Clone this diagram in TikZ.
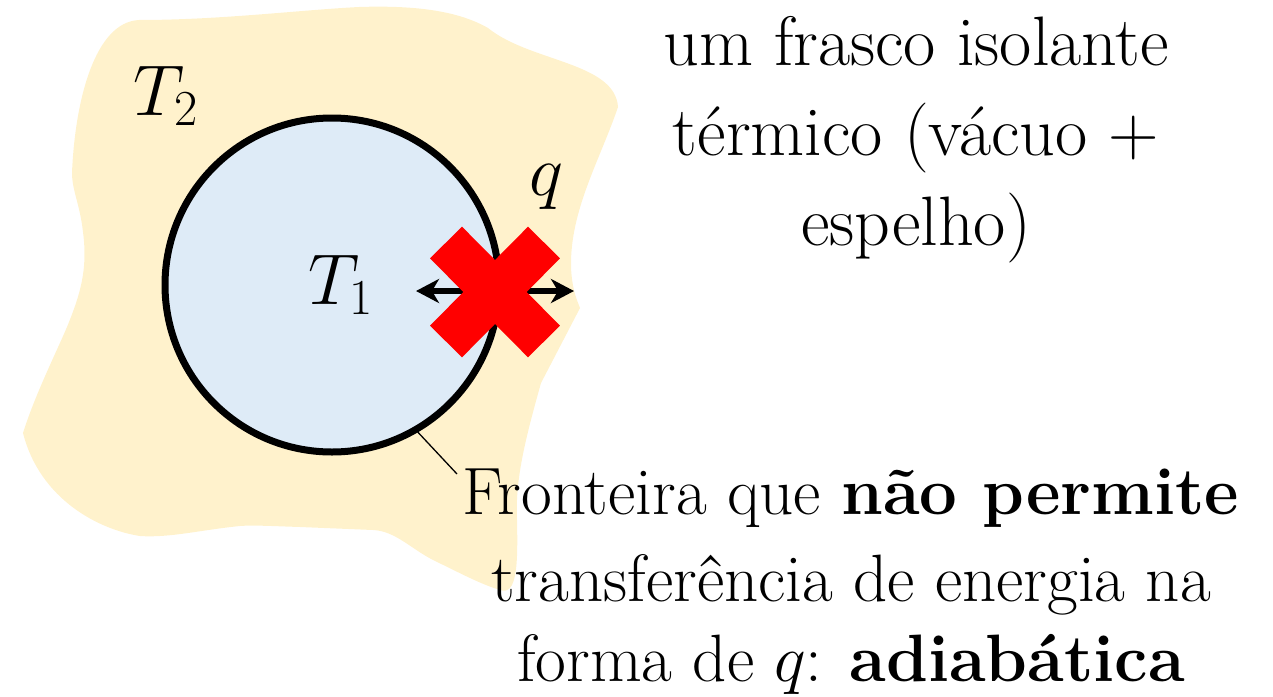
\RequirePackage{fix-cm}
\documentclass[tikz,border=0pt]{standalone}
\usetikzlibrary{shapes.misc,arrows.meta}
\definecolor{envyellow}{HTML}{FFF2CC}
\definecolor{sysblue}{HTML}{DEEBF7}
\definecolor{xred}{HTML}{FF0000}
\tikzset{
  mathlbl/.style={inner sep=0pt, font=\fontsize{72}{86}\selectfont},
  toptext/.style={inner sep=0pt, align=center, font=\fontsize{70}{90}\selectfont},
  bottext/.style={inner sep=0pt, align=center, font=\fontsize{67}{87}\selectfont},
  boundary/.style={circle, draw=black, fill=sysblue, line width=7pt, inner sep=0pt, outer sep=0pt, minimum size=334pt},
  nogo/.style={cross out, draw=xred, line width=45pt, inner sep=0pt, outer sep=0pt, minimum width=98pt, minimum height=99pt},
  flux/.style={line width=5.5pt, {Stealth[length=23pt,width=24pt,inset=7pt]}-{Stealth[length=23pt,width=24pt,inset=7pt]}},
  leader/.style={line width=1.3pt}
}
\begin{document}
\begin{tikzpicture}[x=1pt,y=-1pt]
\useasboundingbox (0,0) rectangle (1273,696);
% surroundings blob
\fill[envyellow] (139,20) .. controls (220,20) and (300,10) .. (359,7)
  .. controls (420,5) and (460,12) .. (488,28)
  .. controls (530,62) and (615,62) .. (618,107)
  .. controls (600,160) and (570,210) .. (571,267)
  .. controls (572,290) and (577,300) .. (580,308)
  -- (541,383)
  .. controls (525,440) and (515,480) .. (517,520)
  .. controls (518,565) and (517,596) .. (500,590)
  .. controls (480,584) and (458,572) .. (433,560)
  .. controls (410,548) and (395,531) .. (373,530)
  -- (300,527)
  .. controls (270,526) and (252,525) .. (240,526)
  .. controls (200,530) and (170,538) .. (140,536)
  .. controls (100,530) and (40,500) .. (23,433)
  .. controls (35,395) and (55,355) .. (67,327)
  .. controls (80,295) and (88,270) .. (83,232)
  .. controls (80,205) and (72,190) .. (72,173)
  .. controls (75,100) and (95,22) .. (139,20) -- cycle;
% system boundary
\node[boundary] (bnd) at (332,285) {};
% labels
\node[mathlbl, anchor=base west] (t2) at (133,115) {$T_2$};
\node[mathlbl, anchor=base west] (t1) at (308,304) {$T_1$};
\node[mathlbl, anchor=base west] (q) at (529,195) {$q$};
% heat flow arrows and cross
\coordinate (al) at (416,291);
\coordinate (ar) at (574,291);
\draw[flux] (al) -- (ar);
\node[nogo] (xmark) at (495,292) {};
% texts
\node[toptext, anchor=north] (top) at (916,16.5) {um frasco isolante\\ térmico (vácuo +\\ espelho)};
\node[bottext, anchor=north] (bottom) at (851,468.5) {Fronteira que \textbf{não permite}\\ transferência de energia na\\[-7pt] forma de $q$: \textbf{adiabática}};
\coordinate (leadend) at (457,474);
\draw[leader] (bnd.-60) -- (leadend);
\end{tikzpicture}
\end{document}
